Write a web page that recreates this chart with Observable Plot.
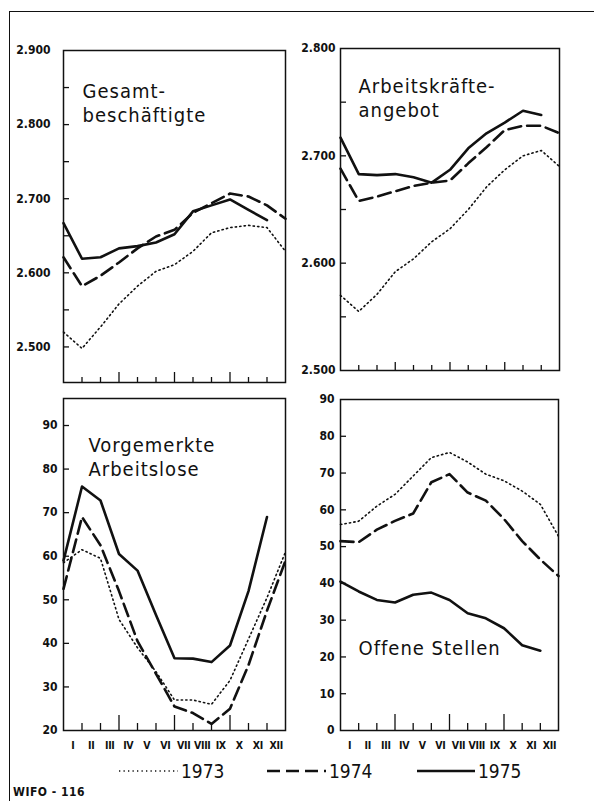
<!DOCTYPE html>
<html><head><meta charset="utf-8">
<script src="https://cdn.jsdelivr.net/npm/d3@7"></script>
<script src="https://cdn.jsdelivr.net/npm/@observablehq/plot@0.6"></script>
<style>
html,body{margin:0;padding:0;background:#fff;}
#fig{position:relative;width:594px;height:801px;overflow:hidden;background:#fff;color:#111;
  font-family:"DejaVu Sans Condensed","DejaVu Sans",sans-serif;}
#border{position:absolute;left:9px;top:11px;width:600px;height:800px;border-left:1.6px solid #111;border-top:1.6px solid #111;pointer-events:none;z-index:5;}
.panel{position:absolute;}
.panel svg{overflow:visible;}
#legend{position:absolute;left:0;top:755px;}
#wifo{position:absolute;left:13px;top:785px;font-size:12px;line-height:14px;font-weight:bold;letter-spacing:0.5px;}
</style></head>
<body>
<div id="fig">
  <div id="p1" class="panel" style="left:0;top:0"></div>
  <div id="p2" class="panel" style="left:290px;top:0"></div>
  <div id="p3" class="panel" style="left:0;top:390px"></div>
  <div id="p4" class="panel" style="left:290px;top:390px"></div>
  <svg id="legend" width="594" height="34"></svg>
  <div id="wifo">WIFO - 116</div>
  <div id="border"></div>
</div>
<script>
// ---------- data ----------
const months = ["I","II","III","IV","V","VI","VII","VIII","IX","X","XI","XII"];
const steps = [0,1,2,3,4,5,6,7,8,9,10,11,12];   // month boundaries
const years = ["1973","1974","1975"];

// Gesamtbeschäftigte (1.000)
const besch1973 = [2520,2498,2527,2558,2582,2602,2611,2629,2654,2661,2664,2661,2629];
const besch1974 = [2621,2582,2596,2614,2633,2649,2658,2681,2694,2707,2703,2691,2673];
const besch1975 = [2667,2619,2621,2633,2636,2641,2652,2683,2691,2699,2685,2671];

// Arbeitskräfteangebot (1.000)
const angeb1973 = [2570,2555,2571,2592,2604,2620,2632,2650,2671,2687,2700,2705,2690];
const angeb1974 = [2688,2658,2662,2667,2672,2675,2677,2693,2708,2724,2728,2728,2721];
const angeb1975 = [2717,2683,2682,2683,2680,2675,2687,2707,2721,2731,2742,2738];

// Vorgemerkte Arbeitslose (1.000)
const alos1973 = [58.5,61.5,59.5,45.5,39,33.5,27,27,26,31.5,41,50.5,61];
const alos1974 = [52.5,69,62.5,52,40.5,33,25.5,24,21.5,25,35,47.5,59];
const alos1975 = [59,76,72.8,60.5,56.7,46.5,36.6,36.5,35.7,39.5,52,69];

// Offene Stellen (1.000)
const offen1973 = [56,56.9,61,64.2,69.2,74.2,75.6,73,69.7,67.9,65.1,61.5,52.8];
const offen1974 = [51.5,51.2,54.6,57,59,67.5,69.7,64.7,62.5,57.5,51.5,46.5,42];
const offen1975 = [40.5,37.8,35.5,34.8,36.9,37.5,35.5,31.9,30.5,27.8,23.2,21.7];

// tick labels / tick positions
const ticksBesch = [2500,2600,2700,2800,2900];
const minorBesch = [2500,2550,2600,2650,2700,2750,2800,2850];
const ticksAngeb = [2500,2600,2700,2800];
const minorAngeb = [2550,2600,2650,2700,2750];
const ticksAlos = [20,30,40,50,60,70,80,90];
const minorAlos = [30,40,50,60,70,80,90];
const ticksOffen = [0,10,20,30,40,50,60,70,80,90];
const minorOffen = [10,20,30,40,50,60,70,80];
const xMinor = [1,2,4,5,7,8,10,11];
const xMajor = [3,6,9];
const monthCenters = months.map((m, i) => i + 0.5);

const F = '"DejaVu Sans Condensed","DejaVu Sans",sans-serif';
const INK = "#111";
const styles = {
  "1973": {strokeWidth: 1.6, strokeDasharray: "1.3 3.2"},
  "1974": {strokeWidth: 2.6, strokeDasharray: "13 6"},
  "1975": {strokeWidth: 2.6}
};

function rows(series) {
  const out = [];
  years.forEach((yr, j) => series[j].forEach((v, i) => out.push({pos: steps[i], value: v, year: yr})));
  return out;
}
const fmt = d => d >= 1000 ? d3.format(",")(d).replace(",", ".") : String(d);

function panel(el, o) {
  const data = rows(o.series);
  const pw = o.width - o.ml - o.mr, ph = o.height - o.mt - o.mb;
  const marks = [
    Plot.tickY(o.minor, {y: d => d, insetRight: pw - 6, stroke: INK, strokeWidth: 1.3}),
    Plot.tickX(xMinor, {x: d => d, insetTop: ph - o.xs, stroke: INK, strokeWidth: 1.3}),
    Plot.tickX(xMajor, {x: d => d, insetTop: ph - o.xl, stroke: INK, strokeWidth: 1.3}),
    Plot.axisY(o.ticks, {label: null, tickSize: 0, tickPadding: o.pad, tickFormat: fmt, fontWeight: "bold", fontSize: 12, fontFamily: F, fill: INK}),
    ...years.map(yr => Plot.line(data.filter(d => d.year === yr), {x: "pos", y: "value", stroke: INK, strokeLinejoin: "round", ...styles[yr]})),
    Plot.text([o.title], {frameAnchor: "top-left", textAnchor: "start", lineAnchor: "bottom", dx: o.tdx, dy: o.tdy, lineHeight: 1.2, fontSize: 20, fontFamily: F, fill: INK}),
    Plot.frame({stroke: INK, strokeWidth: 1.5})
  ];
  if (o.xlabels) marks.push(Plot.axisX(monthCenters, {label: null, tickSize: 0, tickPadding: 11, tickFormat: d => months[Math.floor(d)], fontWeight: "bold", fontSize: 10.5, fontFamily: F, fill: INK}));
  const svg = Plot.plot({
    width: o.width, height: o.height,
    marginLeft: o.ml, marginRight: o.mr, marginTop: o.mt, marginBottom: o.mb,
    x: {domain: [0, 12], axis: null, label: null},
    y: {domain: o.domain, axis: null, label: null},
    style: {fontFamily: F, background: "transparent", color: INK, overflow: "visible"},
    marks
  });
  d3.select(svg).selectAll('g[aria-label="text"] text').style("letter-spacing", "1px");
  d3.select(svg).selectAll('g[aria-label="x-axis tick label"] text').style("letter-spacing", "-0.3px");
  document.getElementById(el).appendChild(svg);
}

panel("p1", {series: [besch1973, besch1974, besch1975], domain: [2452, 2900], ticks: ticksBesch, minor: minorBesch,
  width: 290, height: 390, ml: 63, mr: 5, mt: 50, mb: 8, pad: 13, xs: 5, xl: 10,
  title: "Gesamt-\nbeschäftigte", tdx: 19, tdy: 71});
panel("p2", {series: [angeb1973, angeb1974, angeb1975], domain: [2500, 2800], ticks: ticksAngeb, minor: minorAngeb,
  width: 300, height: 380, ml: 50, mr: 31, mt: 48, mb: 10, pad: 5, xs: 5, xl: 8,
  title: "Arbeitskräfte-\nangebot", tdx: 18, tdy: 68});
panel("p3", {series: [alos1973, alos1974, alos1975], domain: [20, 96.2], ticks: ticksAlos, minor: minorAlos,
  width: 290, height: 380, ml: 63, mr: 5, mt: 8, mb: 40, pad: 6, xs: 7, xl: 15, xlabels: true,
  title: "Vorgemerkte\nArbeitslose", tdx: 25, tdy: 77});
panel("p4", {series: [offen1973, offen1974, offen1975], domain: [0, 90], ticks: ticksOffen, minor: minorOffen,
  width: 300, height: 380, ml: 50, mr: 32, mt: 9, mb: 40, pad: 6, xs: 7, xl: 16, xlabels: true,
  title: "Offene Stellen", tdx: 18, tdy: 255});

// ---------- legend ----------
const lg = d3.select("#legend");
const legendItems = [
  {year: "1973", x1: 119, x2: 178},
  {year: "1974", x1: 267, x2: 326},
  {year: "1975", x1: 417, x2: 475}
];
legendItems.forEach(it => {
  const s = styles[it.year];
  lg.append("line").attr("x1", it.x1).attr("x2", it.x2).attr("y1", 16).attr("y2", 16)
    .attr("stroke", INK).attr("stroke-width", s.strokeWidth).attr("stroke-dasharray", s.strokeDasharray || null);
  lg.append("text").attr("x", it.x2 + 3).attr("y", 23).attr("font-size", 19).attr("font-family", F)
    .attr("fill", INK).text(it.year);
});
</script>
</body></html>
